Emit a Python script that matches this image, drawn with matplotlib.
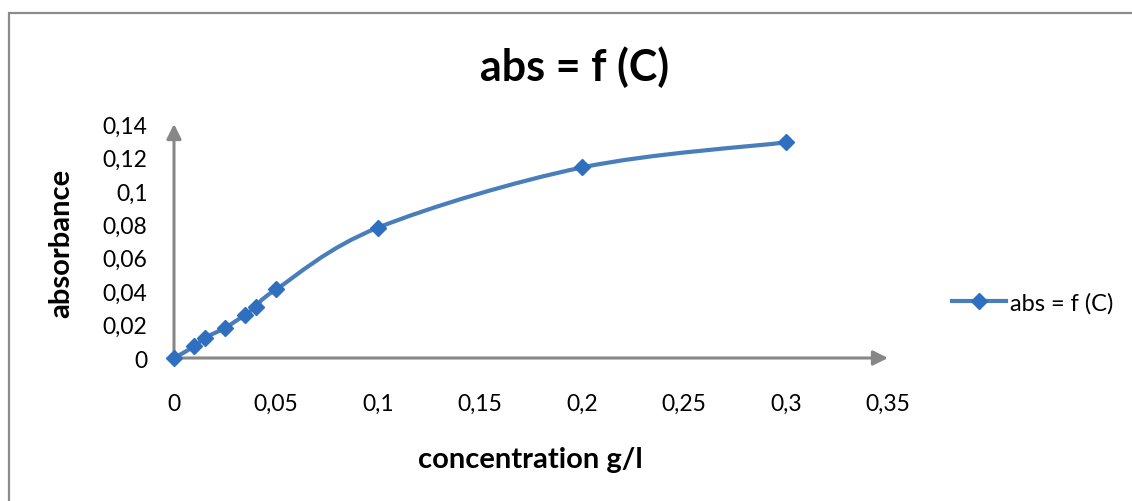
import matplotlib
matplotlib.use("Agg")
import matplotlib.pyplot as plt
from matplotlib.path import Path
from matplotlib.patches import PathPatch, Rectangle
from matplotlib.lines import Line2D

plt.rcParams['font.family'] = ['Lato', 'DejaVu Sans']

# data
concentration = [0, 0.01, 0.015, 0.025, 0.035, 0.04, 0.05, 0.1, 0.2, 0.3]
absorbance = [0, 0.007, 0.012, 0.018, 0.026, 0.0305, 0.041, 0.078, 0.114, 0.129]
x_ticks = [0, 0.05, 0.1, 0.15, 0.2, 0.25, 0.3, 0.35]
x_tick_labels = ['0', '0,05', '0,1', '0,15', '0,2', '0,25', '0,3', '0,35']
y_ticks = [0, 0.02, 0.04, 0.06, 0.08, 0.1, 0.12, 0.14]
y_tick_labels = ['0', '0,02', '0,04', '0,06', '0,08', '0,1', '0,12', '0,14']
series_name = 'abs = f (C)'

W, H = 1132, 502
fig = plt.figure(figsize=(W / 100, H / 100), dpi=100)
fig.patch.set_facecolor('white')

# outer chart border
fig.patches.append(Rectangle((9 / W, -0.1), 1.2, 1 - 14 / H + 0.1,
                             transform=fig.transFigure, fill=False,
                             edgecolor='#8c8c8c', linewidth=1.6))

ax = fig.add_axes([174 / W, 1 - 359 / H, (888 - 174) / W, (359 - 125) / H])
ax.set_xlim(0, 0.35)
ax.set_ylim(0, 0.14)
for s in ax.spines.values():
    s.set_visible(False)
ax.set_xticks(x_ticks)
ax.set_xticklabels(x_tick_labels)
ax.set_yticks(y_ticks)
ax.set_yticklabels(y_tick_labels)
ax.tick_params(axis='both', length=0, labelsize=16.5, colors='black')
ax.tick_params(axis='x', pad=25)
ax.tick_params(axis='y', pad=19)

axis_col = '#878787'
ax.annotate('', xy=(0.35, 0), xytext=(0, 0),
            arrowprops=dict(arrowstyle='-|>', color=axis_col, lw=2.2,
                            mutation_scale=22, shrinkA=0, shrinkB=0),
            annotation_clip=False)
ax.annotate('', xy=(0, 0.14), xytext=(0, 0),
            arrowprops=dict(arrowstyle='-|>', color=axis_col, lw=2.2,
                            mutation_scale=22, shrinkA=0, shrinkB=0),
            annotation_clip=False)

# Excel-style smoothed line (Catmull-Rom / Bezier)
line_col = '#4a7ebb'
mark_col = '#2f6fc0'
pts = list(zip(concentration, absorbance))
n = len(pts)
verts = [pts[0]]
codes = [Path.MOVETO]
for i in range(n - 1):
    p0 = pts[i - 1] if i > 0 else pts[i]
    p1 = pts[i]
    p2 = pts[i + 1]
    p3 = pts[i + 2] if i + 2 < n else pts[i + 1]
    c1 = (p1[0] + (p2[0] - p0[0]) / 6, p1[1] + (p2[1] - p0[1]) / 6)
    c2 = (p2[0] - (p3[0] - p1[0]) / 6, p2[1] - (p3[1] - p1[1]) / 6)
    verts += [c1, c2, p2]
    codes += [Path.CURVE4] * 3
ax.add_patch(PathPatch(Path(verts, codes), fill=False, edgecolor=line_col,
                       linewidth=3, capstyle='round', joinstyle='round',
                       clip_on=False, zorder=3))
ax.plot(concentration, absorbance, linestyle='none', marker='D',
        markersize=8, color=mark_col, clip_on=False, zorder=4)

# titles
fig.text(575 / W, 1 - 67 / H, 'abs = f (C)', ha='center', va='center',
         fontsize=31, fontweight='bold')
fig.text(530 / W, 1 - 460 / H, 'concentration g/l', ha='center', va='center',
         fontsize=21, fontweight='bold')
fig.text(61 / W, 1 - 243 / H, 'absorbance', ha='center', va='center',
         rotation=90, fontsize=21, fontweight='bold')

# legend
handle = Line2D([], [], color=line_col, linewidth=3, marker='D',
                markersize=8, markerfacecolor=mark_col, markeredgecolor=mark_col)
fig.legend([handle], [series_name], loc='center left',
           bbox_to_anchor=(952 / W, 1 - 304 / H), frameon=False,
           fontsize=17, handlelength=2.3, handletextpad=0.17,
           borderaxespad=0, borderpad=0)

fig.savefig('out.png', dpi=100, facecolor='white')
